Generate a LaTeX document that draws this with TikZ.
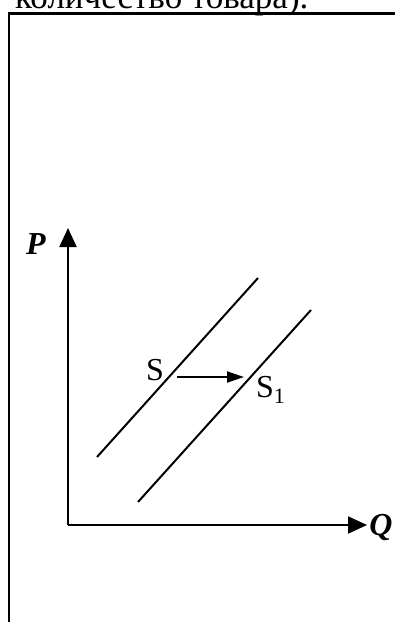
\documentclass[tikz,border=0pt]{standalone}
\usepackage{fontspec}
\setmainfont{Liberation Serif}
\usetikzlibrary{arrows.meta,positioning}

\begin{document}
\begin{tikzpicture}[
  x=1pt,y=-1pt,
  axis/.style={line width=2.2pt,-{Triangle[length=19pt,width=17pt]}},
  supply/.style={line width=2pt},
  shiftarr/.style={line width=2pt,-{Triangle[length=17pt,width=11pt]}},
  lbl/.style={inner sep=0pt,font=\fontsize{32}{36}\selectfont}
]
\useasboundingbox (0,0) rectangle (395,622);
\clip (0,0) rectangle (395,622);
% caption, cut off at the top
\node[anchor=base west,inner sep=0pt,font=\fontsize{35}{40}\selectfont] (cap) at (15,8) {количество товара).};
% frame
\coordinate (fbl) at (9,630);
\coordinate (ftl) at (9,13.5);
\coordinate (ftr) at (400,13.5);
\draw[line width=2.8pt] (fbl) -- (ftl) -- (ftr);
% axes
\coordinate (O) at (68,525);
\coordinate (Ptip) at (68,228);
\coordinate (Qtip) at (367,525);
\draw[axis] (O) -- (Ptip);
\draw[axis] (O) -- (Qtip);
\node[lbl] (P) at (36,244) {\textbf{\textit{P}}};
\node[lbl] (Q) at (381,527) {\textbf{\textit{Q}}};
% supply curves
\coordinate (s0) at (97,457);
\coordinate (s1) at (258,278);
\coordinate (t0) at (138,502);
\coordinate (t1) at (311,310);
\draw[supply] (s0) -- (s1);
\draw[supply] (t0) -- (t1);
\node[lbl,anchor=base west] (S) at (146,380) {S};
\node[lbl,anchor=base west] (S1) at (256,397) {S\raisebox{-0.2em}{\fontsize{22}{24}\selectfont 1}};
% shift
\coordinate (a0) at (177,377);
\coordinate (a1) at (244,377);
\draw[shiftarr] (a0) -- (a1);
\end{tikzpicture}
\end{document}
